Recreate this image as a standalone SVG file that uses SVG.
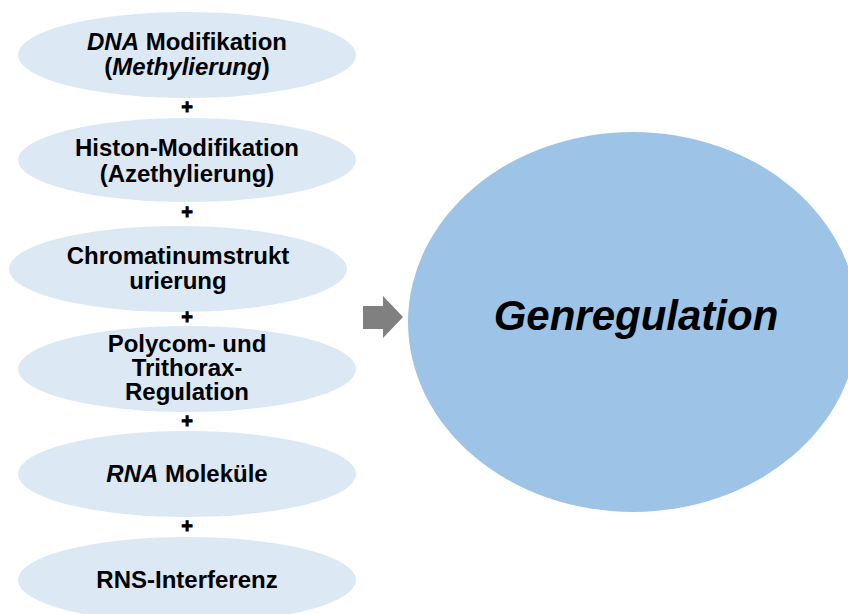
<svg xmlns="http://www.w3.org/2000/svg" width="848" height="614" viewBox="0 0 848 614">
<style>
.n{fill:#dde8f5;}
.big{fill:#9dc3e6;}
.t{font-family:"Liberation Sans",Arial,sans-serif;font-weight:bold;font-size:24px;fill:#000;text-anchor:middle;}
.i{font-style:italic;}
.p{font-family:"Liberation Sans",Arial,sans-serif;font-weight:bold;font-size:20px;fill:#000;stroke:#000;stroke-width:0.8;text-anchor:middle;}
.g{font-family:"Liberation Sans",Arial,sans-serif;font-weight:bold;font-style:italic;font-size:42px;fill:#000;text-anchor:middle;}
</style>
<rect width="848" height="614" fill="#ffffff"/>
<g id="n1"><ellipse class="n" cx="187" cy="55" rx="169" ry="43"/>
<text class="t" x="187" y="50"><tspan class="i">DNA</tspan> Modifikation</text>
<text class="t" x="187" y="75">(<tspan class="i">Methylierung</tspan>)</text></g>
<g id="n2"><ellipse class="n" cx="187" cy="160" rx="169" ry="42"/>
<text class="t" x="187" y="156">Histon-Modifikation</text>
<text class="t" x="187" y="182">(Azethylierung)</text></g>
<g id="n3"><ellipse class="n" cx="178" cy="269" rx="169" ry="43"/>
<text class="t" x="178" y="264">Chromatinumstrukt</text>
<text class="t" x="178" y="289">urierung</text></g>
<g id="n4"><ellipse class="n" cx="187" cy="369" rx="169" ry="43"/>
<text class="t" x="187" y="352">Polycom- und</text>
<text class="t" x="187" y="376">Trithorax-</text>
<text class="t" x="187" y="400">Regulation</text></g>
<g id="n5"><ellipse class="n" cx="187" cy="474" rx="169" ry="43"/>
<text class="t" x="187" y="482"><tspan class="i">RNA</tspan> Moleküle</text></g>
<g id="n6"><ellipse class="n" cx="187" cy="580" rx="169" ry="43"/>
<text class="t" x="187" y="588">RNS-Interferenz</text></g>
<g id="plus">
<text class="p" x="187" y="114">+</text>
<text class="p" x="187" y="219">+</text>
<text class="p" x="187" y="324">+</text>
<text class="p" x="187" y="428">+</text>
<text class="p" x="187" y="533">+</text>
</g>
<g id="genregulation"><ellipse class="big" cx="633" cy="322" rx="225" ry="190"/>
<text class="g" x="636" y="330">Genregulation</text></g>
<g id="connectors">
<polygon points="363,306 383,306 383,296 403,317 383,338 383,329 363,329" fill="#808080"/>
</g>
</svg>
